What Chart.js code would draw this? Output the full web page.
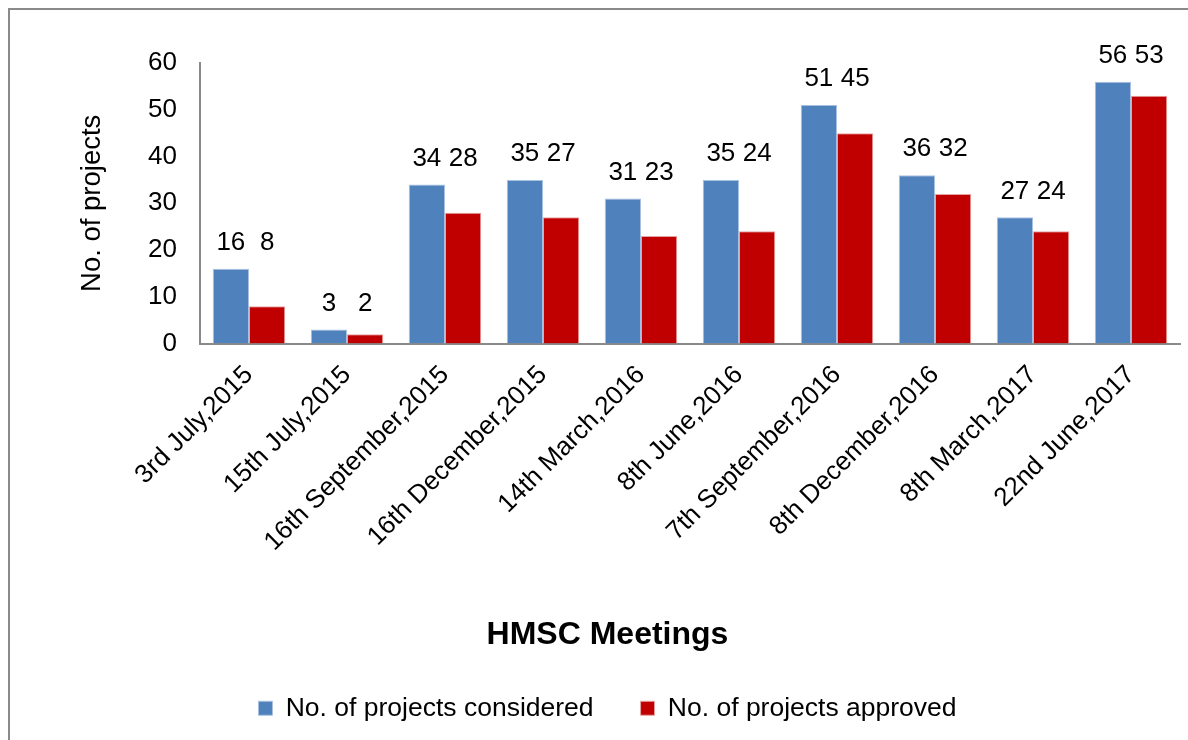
<!DOCTYPE html>
<html>
<head>
<meta charset="utf-8">
<script src="https://cdn.jsdelivr.net/npm/chart.js@4.4.0/dist/chart.umd.min.js"></script>
<style>
  html, body { margin: 0; padding: 0; background: #fff; }
  #frame {
    position: absolute; left: 8px; top: 8px;
    width: 1200px; height: 760px;
    border-left: 2px solid #8a8a8a; border-top: 2px solid #8a8a8a;
  }
  #wrap { position: absolute; left: 10px; top: 10px; width: 1178px; height: 730px; }
</style>
</head>
<body>
<div id="frame"></div>
<div id="wrap"><canvas id="barChart"></canvas></div>
<script>
const meetings = [
  "3rd July,2015", "15th July,2015", "16th September,2015", "16th December,2015",
  "14th March,2016", "8th June,2016", "7th September,2016", "8th December,2016",
  "8th March,2017", "22nd June,2017"
];
const considered = [16, 3, 34, 35, 31, 35, 51, 36, 27, 56];
const approved = [8, 2, 28, 27, 23, 24, 45, 32, 24, 53];
const yTicks = [0, 10, 20, 30, 40, 50, 60];

const FONT = "'Liberation Sans', Arial, sans-serif";

// labels above bars, both of a pair sit above the taller one
const valueLabels = {
  id: "valueLabels",
  afterDatasetsDraw(chart) {
    const ctx = chart.ctx;
    const y = chart.scales.y;
    ctx.save();
    ctx.font = "26px " + FONT;
    ctx.fillStyle = "#000";
    ctx.textAlign = "center";
    ctx.textBaseline = "middle";
    chart.data.datasets.forEach((ds, di) => {
      const meta = chart.getDatasetMeta(di);
      meta.data.forEach((bar, i) => {
        const top = y.getPixelForValue(Math.max(considered[i], approved[i]));
        ctx.fillText(String(ds.data[i]), bar.x, top - 26);
      });
    });
    ctx.restore();
  }
};

// keep the wide gap between legend items without a tall legend box
const legendFit = {
  id: "legendFit",
  beforeInit(chart) {
    const fit = chart.legend.fit;
    chart.legend.fit = function () {
      fit.call(this);
      this.height = 92;
    };
  }
};

const barCtx = document.getElementById("barChart").getContext("2d");
new Chart(barCtx, {
  type: "bar",
  data: {
    labels: meetings,
    datasets: [
      {
        label: "No. of projects considered",
        data: considered,
        backgroundColor: "#4F81BD",
        borderColor: "#A9C1E0",
        borderWidth: 1,
      },
      {
        label: "No. of projects approved",
        data: approved,
        backgroundColor: "#C00000",
        borderColor: "#E6A3A3",
        borderWidth: 1,
      },
    ],
  },
  options: {
    responsive: true,
    maintainAspectRatio: false,
    animation: false,
    layout: { padding: { top: 53, right: 8, left: 25, bottom: 0 } },
    datasets: { bar: { categoryPercentage: 0.74, barPercentage: 1.0 } },
    plugins: {
      tooltip: { enabled: false },
      title: {
        display: true,
        text: "HMSC Meetings",
        position: "bottom",
        weight: 500,
        font: { family: FONT, size: 32, weight: "bold" },
        color: "#000",
        padding: { top: 0, bottom: -6 },
      },
      legend: {
        position: "bottom",
        labels: {
          font: { family: FONT, size: 26.5 },
          color: "#000",
          boxWidth: 14,
          boxHeight: 14,
          padding: 47,
        },
      },
    },
    scales: {
      x: {
        grid: { display: false },
        border: { display: true, color: "#8a8a8a", width: 2 },
        ticks: {
          font: { family: FONT, size: 26 },
          color: "#000",
          maxRotation: 45,
          minRotation: 45,
          autoSkip: false,
          padding: 8,
        },
        afterFit: (s) => { s.height = 272; },
      },
      y: {
        min: 0,
        max: 60,
        afterBuildTicks: (s) => { s.ticks = yTicks.map((v) => ({ value: v })); },
        grid: { display: false },
        border: { display: true, color: "#8a8a8a", width: 2 },
        ticks: {
          font: { family: FONT, size: 26 },
          color: "#000",
          padding: 15,
        },
        title: {
          display: true,
          text: "No. of projects",
          font: { family: FONT, size: 27.5 },
          color: "#000",
          padding: { top: 41, bottom: 0 },
        },
        afterFit: (s) => { s.width = 165; },
      },
    },
  },
  plugins: [valueLabels, legendFit],
});
</script>
</body>
</html>
